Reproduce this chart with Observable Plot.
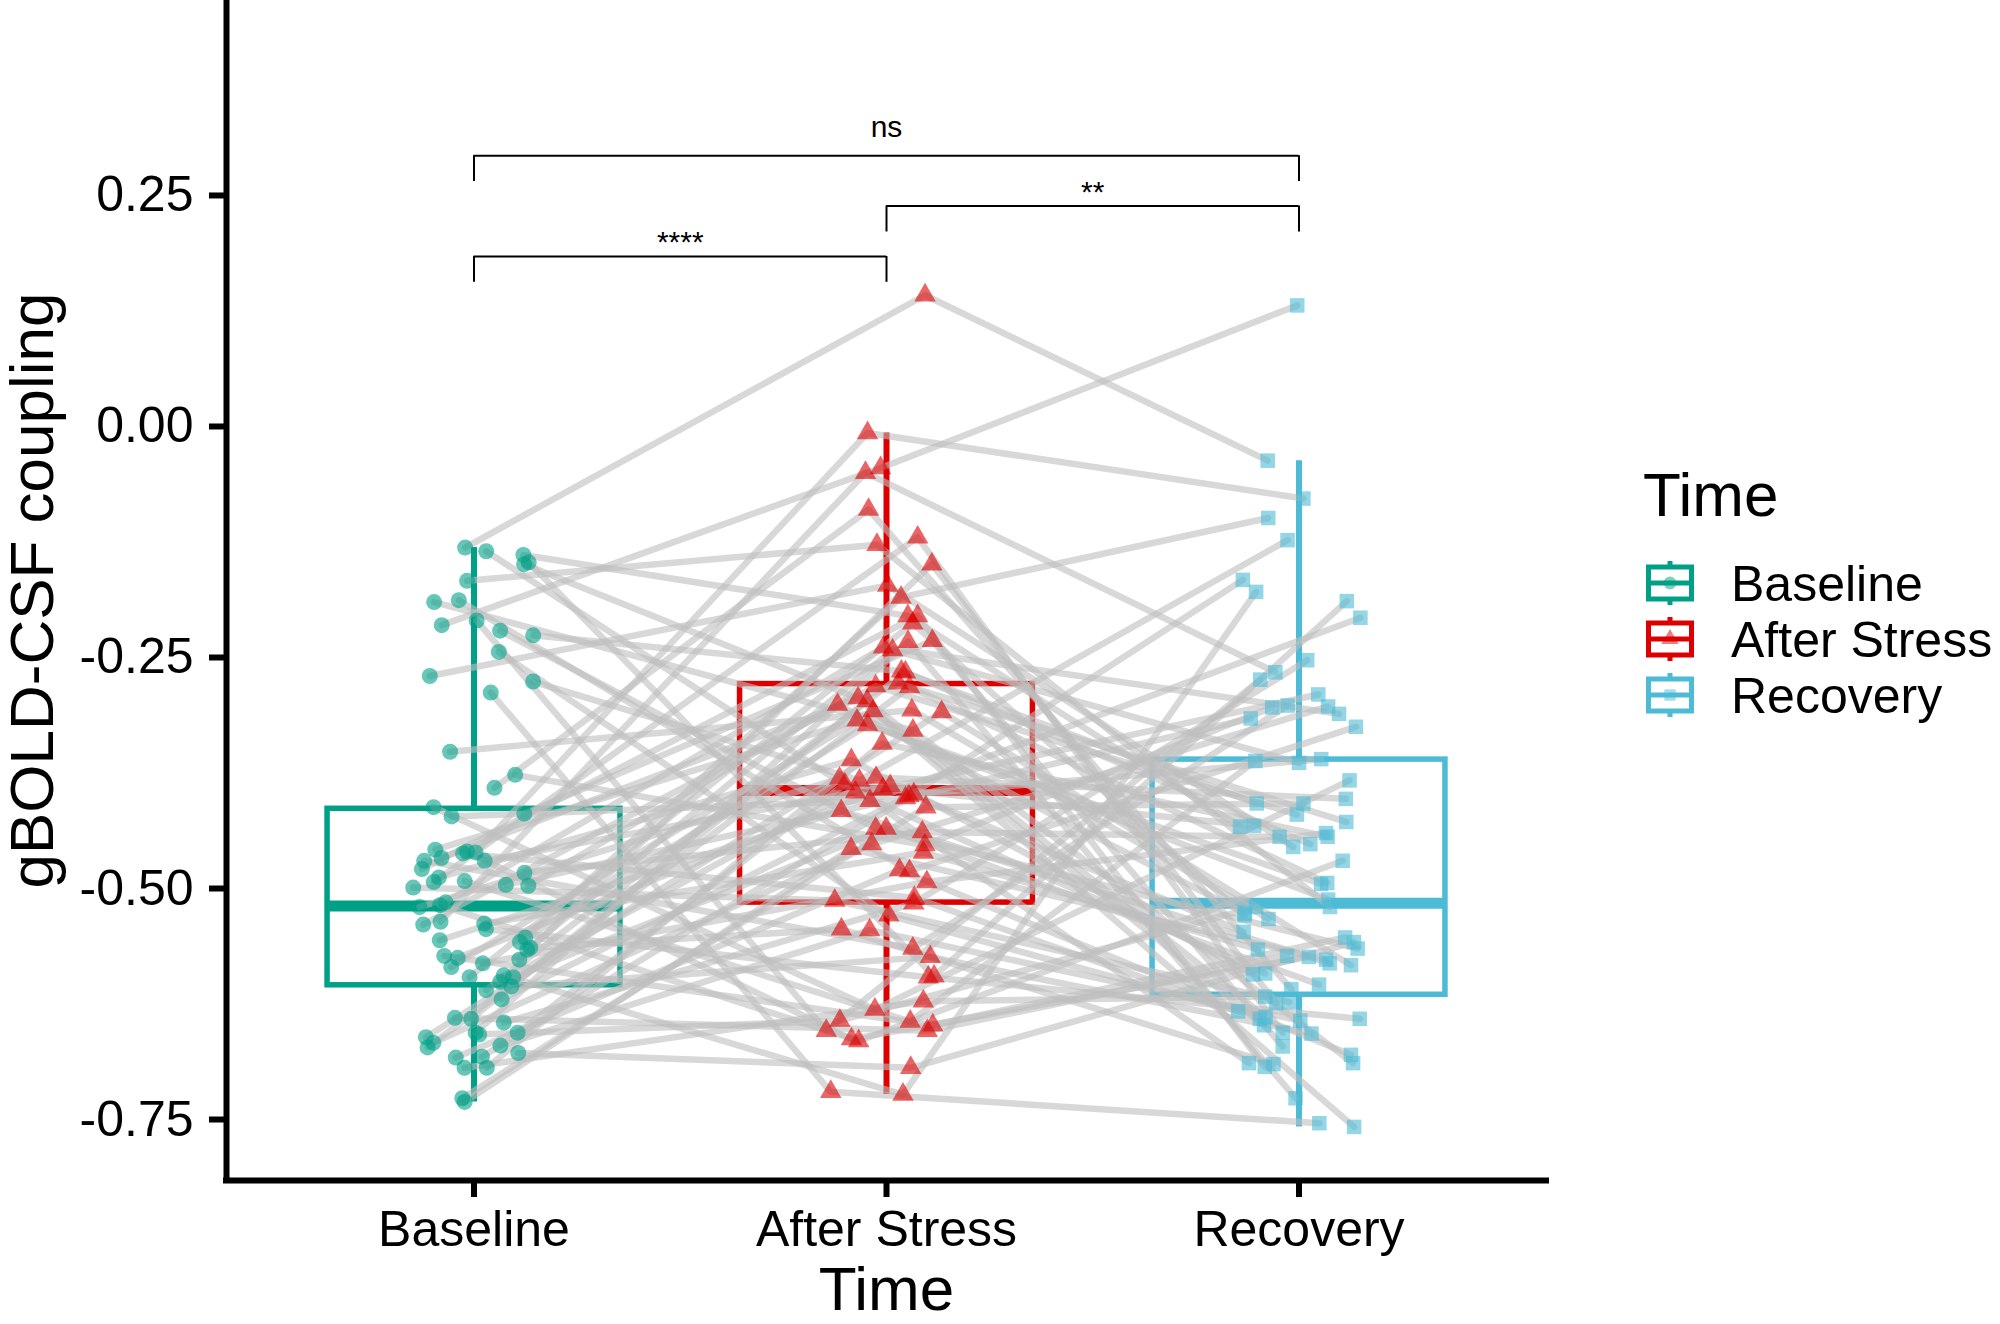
<!DOCTYPE html>
<html>
<head>
<meta charset="utf-8">
<script src="https://cdn.jsdelivr.net/npm/d3@7"></script>
<script src="https://cdn.jsdelivr.net/npm/@observablehq/plot@0.6"></script>
<style>
  body { margin: 0; background: #fff; }
  #wrap { position: relative; width: 2000px; height: 1324px; font-family: "Liberation Sans", Arial, sans-serif; }
  #legend { position: absolute; left: 1600px; top: 440px; }
</style>
</head>
<body>
<div id="wrap"><div id="chart"></div><div id="legend"></div></div>
<script>
// groups and look
const groups = ["Baseline", "After Stress", "Recovery"];
const colors = ["#00A087", "#DC0000", "#4DBBD5"];
const shapes = ["circle", "triangle", "square"];

// gBOLD-CSF coupling per subject (same subject order in all three)
const baseline = [
  -0.131, -0.135, -0.139, -0.147, -0.149, -0.167, -0.188, -0.190, -0.210, -0.215,
  -0.221, -0.226, -0.244, -0.270, -0.276, -0.288, -0.352, -0.377, -0.391, -0.412,
  -0.419, -0.422, -0.458, -0.460, -0.461, -0.462, -0.467, -0.470, -0.470, -0.479,
  -0.483, -0.488, -0.492, -0.493, -0.496, -0.497, -0.499, -0.515, -0.518, -0.520,
  -0.536, -0.538, -0.539, -0.544, -0.553, -0.556, -0.558, -0.564, -0.566, -0.573,
  -0.575, -0.577, -0.581, -0.585, -0.594, -0.596, -0.596, -0.601, -0.606, -0.610,
  -0.620, -0.640, -0.641, -0.645, -0.656, -0.656, -0.658, -0.661, -0.667, -0.670,
  -0.672, -0.678, -0.682, -0.683, -0.694, -0.694, -0.727, -0.731
];
const afterStress = [
  0.142, -0.396, -0.205, -0.595, -0.294, -0.128, -0.481, -0.329, -0.654, -0.045,
  -0.435, -0.265, -0.529, -0.172, -0.383, -0.720, -0.307, -0.453, -0.090, -0.631,
  -0.232, -0.405, -0.318, -0.663, -0.007, -0.510, -0.278, -0.389, -0.565, -0.205,
  -0.439, -0.361, -0.644, -0.120, -0.400, -0.301, -0.513, -0.239, -0.665, -0.381,
  -0.050, -0.461, -0.281, -0.596, -0.185, -0.416, -0.323, -0.544, -0.242, -0.648,
  -0.392, -0.149, -0.493, -0.308, -0.723, -0.213, -0.435, -0.380, -0.574, -0.266,
  -0.402, -0.654, -0.297, -0.516, -0.233, -0.387, -0.643, -0.309, -0.452, -0.545,
  -0.282, -0.694, -0.398, -0.480, -0.343, -0.622, -0.412, -0.457
];
const recovery = [
  -0.037, -0.592, -0.433, -0.189, -0.648, -0.520, -0.325, -0.689, -0.274, 0.131,
  -0.565, -0.408, -0.633, -0.455, -0.123, -0.754, -0.533, -0.304, -0.609, -0.383,
  -0.671, -0.207, -0.512, -0.574, -0.078, -0.641, -0.428, -0.547, -0.302, -0.693,
  -0.444, -0.593, -0.362, -0.656, -0.166, -0.527, -0.623, -0.311, -0.470, -0.689,
  -0.266, -0.566, -0.420, -0.641, -0.099, -0.581, -0.495, -0.690, -0.364, -0.553,
  -0.290, -0.624, -0.440, -0.758, -0.179, -0.529, -0.604, -0.403, -0.657, -0.452,
  -0.316, -0.573, -0.639, -0.253, -0.727, -0.432, -0.520, -0.583, -0.303, -0.643,
  -0.494, -0.558, -0.360, -0.680, -0.444, -0.617, -0.408, -0.577
];

// pairwise tests shown as brackets
const comparisons = [
  ["Baseline", "After Stress", "****"],
  ["After Stress", "Recovery", "**"],
  ["Baseline", "Recovery", "ns"]
];
const yTicks = [-0.75, -0.5, -0.25, 0, 0.25];

const series = [baseline, afterStress, recovery];

// jitter like geom_jitter, seeded so it is the same every run
const jitter = d3.randomUniform.source(d3.randomLcg(0.4217))(-0.15, 0.15);
const rows = [];
baseline.forEach((_, i) => {
  series.forEach((vals, g) => {
    rows.push({subject: i, group: groups[g], pos: g + 1, value: vals[i], jit: jitter()});
  });
});

// boxplot stats (R type 7 quantiles, whiskers at 1.5 IQR)
const stats = series.map((vals, g) => {
  const s = vals.slice().sort(d3.ascending);
  const q1 = d3.quantileSorted(s, 0.25);
  const med = d3.quantileSorted(s, 0.5);
  const q3 = d3.quantileSorted(s, 0.75);
  const iqr = q3 - q1;
  return {
    group: groups[g], pos: g + 1, q1, med, q3,
    lo: d3.min(s.filter((v) => v >= q1 - 1.5 * iqr)),
    hi: d3.max(s.filter((v) => v <= q3 + 1.5 * iqr))
  };
});

const ymax = d3.max(series.flat());
const brackets = comparisons.map(([a, b, label], k) => ({
  x1: groups.indexOf(a) + 1,
  x2: groups.indexOf(b) + 1,
  y: ymax + 0.042 + k * 0.0545,
  label
}));
const tip = 0.028;
const half = 0.355;

const xy = (d) => d.pos + d.jit;
const dots = groups.map((g, i) =>
  Plot.dot(rows.filter((d) => d.group === g), {
    x: xy,
    y: "value",
    symbol: shapes[i],
    r: [8, 8, 8.2][i],
    fill: colors[i],
    fillOpacity: 0.6,
    stroke: "none"
  })
);

const plot = Plot.plot({
  width: 2000,
  height: 1324,
  marginLeft: 226,
  marginRight: 454,
  marginTop: 0,
  marginBottom: 144,
  x: {domain: [0.4, 3.6]},
  y: {domain: [-0.816, 0.461]},
  color: {domain: groups, range: colors},
  style: {
    fontFamily: "'Liberation Sans', Arial, sans-serif",
    background: "white",
    color: "black",
    overflow: "visible"
  },
  marks: [
    // boxes
    Plot.ruleX(stats, {x: "pos", y1: "q3", y2: "hi", stroke: "group", strokeWidth: 6}),
    Plot.ruleX(stats, {x: "pos", y1: "lo", y2: "q1", stroke: "group", strokeWidth: 6}),
    Plot.rect(stats, {
      x1: (d) => d.pos - half, x2: (d) => d.pos + half,
      y1: "q1", y2: "q3", stroke: "group", fill: "none", strokeWidth: 5.5
    }),
    Plot.ruleY(stats, {
      y: "med", x1: (d) => d.pos - half, x2: (d) => d.pos + half,
      stroke: "group", strokeWidth: 11
    }),
    // paired lines
    Plot.line(rows, {
      x: xy, y: "value", z: "subject",
      stroke: "#bebebe", strokeOpacity: 0.6, strokeWidth: 6.5, curve: "linear"
    }),
    ...dots,
    // significance brackets
    Plot.ruleY(brackets, {y: "y", x1: "x1", x2: "x2", strokeWidth: 2}),
    Plot.ruleX(brackets, {x: "x1", y1: "y", y2: (d) => d.y - tip, strokeWidth: 2}),
    Plot.ruleX(brackets, {x: "x2", y1: "y", y2: (d) => d.y - tip, strokeWidth: 2}),
    Plot.text(brackets.filter((d) => d.label === "ns"), {
      x: (d) => (d.x1 + d.x2) / 2, y: "y", text: "label",
      lineAnchor: "bottom", dy: -19, fontSize: 30
    }),
    Plot.text(brackets.filter((d) => d.label !== "ns"), {
      x: (d) => (d.x1 + d.x2) / 2, y: "y", text: "label",
      lineAnchor: "bottom", dy: -4, fontSize: 30
    }),
    // axes
    Plot.axisY({
      ticks: yTicks, tickSize: 17, tickPadding: 16, fontSize: 50,
      strokeWidth: 6, tickFormat: (d) => d.toFixed(2), label: null
    }),
    Plot.axisX({
      ticks: [1, 2, 3], tickSize: 17, tickPadding: 13, fontSize: 50,
      strokeWidth: 6, tickFormat: (d) => groups[d - 1], label: null
    }),
    Plot.ruleX([0.4], {strokeWidth: 6, strokeLinecap: "square"}),
    Plot.ruleY([-0.816], {strokeWidth: 6, strokeLinecap: "square"}),
    Plot.text(["Time"], {text: (d) => d, frameAnchor: "bottom", dy: 110, fontSize: 62, lineAnchor: "middle"}),
    Plot.text(["gBOLD-CSF coupling"], {
      text: (d) => d, frameAnchor: "left", textAnchor: "middle", rotate: -90, dx: -193,
      fontSize: 62, lineAnchor: "middle"
    })
  ]
});
document.getElementById("chart").append(plot);

// legend (ggplot style: box glyph with the point shape inside)
const lg = d3.select("#legend").append("svg")
  .attr("width", 400).attr("height", 300)
  .style("font-family", "'Liberation Sans', Arial, sans-serif");
lg.append("text").attr("x", 43).attr("y", 76).attr("font-size", 62).text("Time");
const symbolTypes = [d3.symbolCircle, d3.symbolTriangle, d3.symbolSquare];
groups.forEach((g, i) => {
  const cy = 143 + i * 56;
  const item = lg.append("g").attr("stroke", colors[i]).attr("stroke-width", 5).attr("fill", "none");
  item.append("line").attr("x1", 70).attr("x2", 70).attr("y1", cy - 22).attr("y2", cy - 16);
  item.append("line").attr("x1", 70).attr("x2", 70).attr("y1", cy + 16).attr("y2", cy + 22);
  item.append("rect").attr("x", 48.5).attr("y", cy - 16).attr("width", 43).attr("height", 32);
  item.append("line").attr("x1", 48.5).attr("x2", 91.5).attr("y1", cy).attr("y2", cy);
  lg.append("path")
    .attr("d", d3.symbol(symbolTypes[i], 130)())
    .attr("transform", `translate(70,${cy})`)
    .attr("fill", colors[i]).attr("fill-opacity", 0.5);
  lg.append("text").attr("x", 131).attr("y", cy + 18).attr("font-size", 50).text(g);
});
</script>
</body>
</html>
